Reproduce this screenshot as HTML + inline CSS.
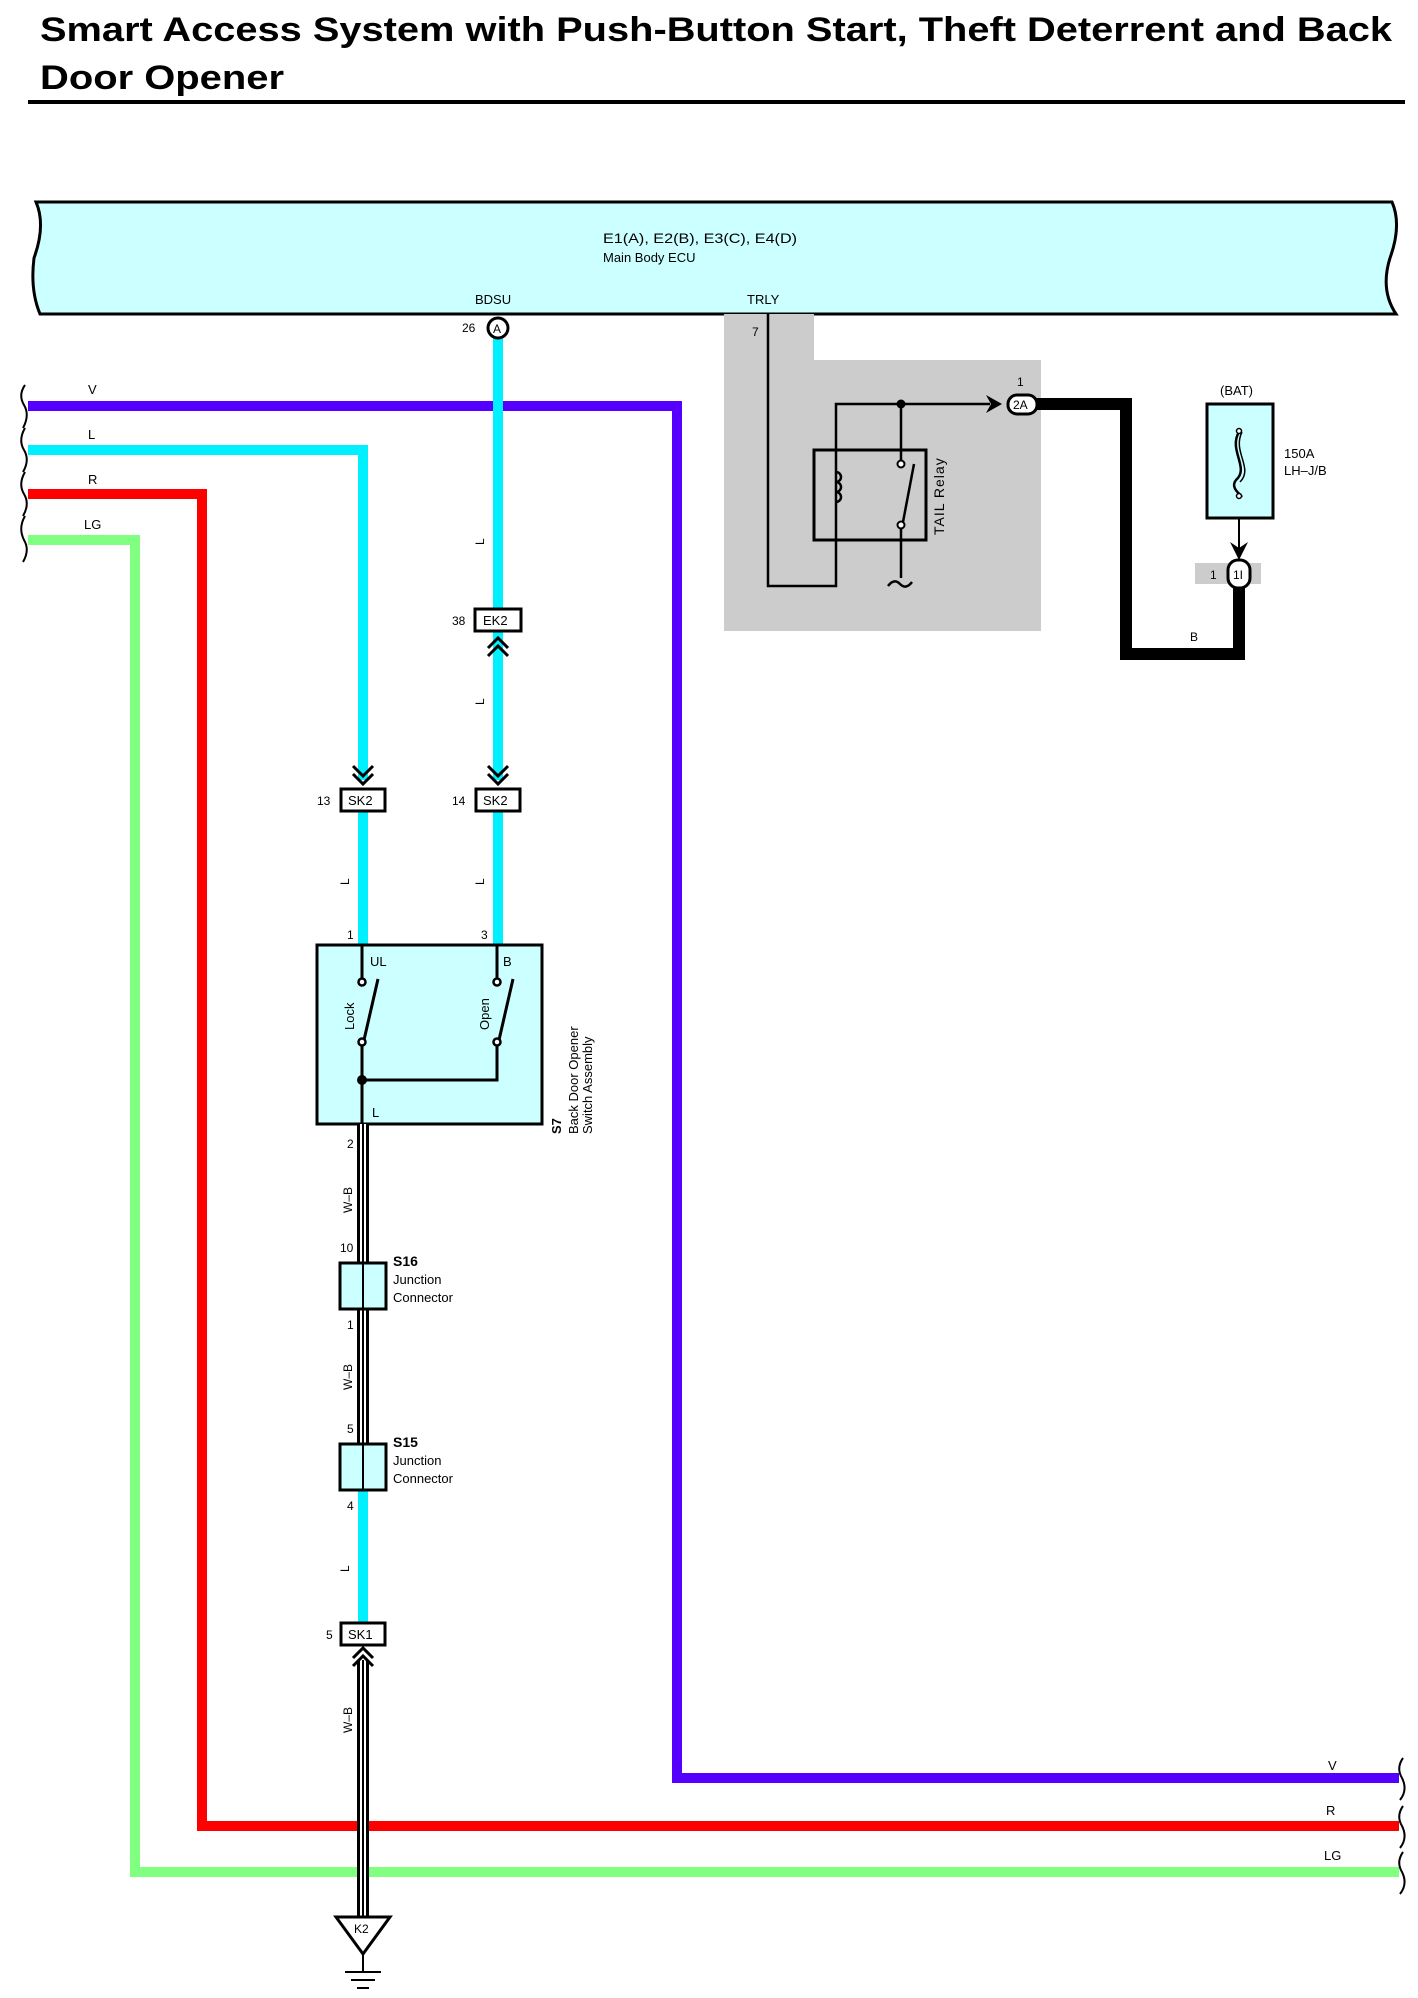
<!DOCTYPE html>
<html><head><meta charset="utf-8"><style>
html,body{margin:0;padding:0;background:#fff}
svg{display:block}
text{font-family:"Liberation Sans",Arial,sans-serif;fill:#000}
</style></head><body>
<svg width="1418" height="1998" viewBox="0 0 1418 1998" xmlns="http://www.w3.org/2000/svg">
<text x="40" y="41" font-size="34" font-weight="bold" textLength="1352" lengthAdjust="spacingAndGlyphs">Smart Access System with Push-Button Start, Theft Deterrent and Back</text>
<text x="40" y="89" font-size="34" font-weight="bold" textLength="244" lengthAdjust="spacingAndGlyphs">Door Opener</text>
<rect x="28" y="100" width="1377" height="4" fill="#000"/>

<path d="M36 202 L1392 202 Q1402 225 1390 258 Q1380 290 1396 314 L40 314 Q30 290 34 258 Q46 225 36 202 Z" fill="#ccffff" stroke="#000" stroke-width="3"/>
<text x="603" y="243" font-size="14" textLength="194" lengthAdjust="spacingAndGlyphs">E1(A), E2(B), E3(C), E4(D)</text>
<text x="603" y="262" font-size="13">Main Body ECU</text>
<text x="475" y="304" font-size="13">BDSU</text>
<text x="747" y="304" font-size="13">TRLY</text>

<path d="M724 314 H814 V360 H1041 V631 H724 Z" fill="#cccccc"/>
<text x="752" y="336" font-size="12">7</text>

<polyline points="28,540 135,540 135,1872 1399,1872" fill="none" stroke="#80ff80" stroke-width="10"/>
<polyline points="28,494 202,494 202,1826 1399,1826" fill="none" stroke="#ff0000" stroke-width="10"/>
<polyline points="28,450 363,450 363,780" fill="none" stroke="#00f0ff" stroke-width="10"/>
<polyline points="28,406 677,406 677,1778 1399,1778" fill="none" stroke="#5500ff" stroke-width="10"/>
<line x1="498" y1="335" x2="498" y2="780" stroke="#00f0ff" stroke-width="10"/>
<line x1="363" y1="810" x2="363" y2="944" stroke="#00f0ff" stroke-width="10"/>
<line x1="498" y1="810" x2="498" y2="944" stroke="#00f0ff" stroke-width="10"/>
<line x1="363" y1="1490" x2="363" y2="1622" stroke="#00f0ff" stroke-width="10"/>

<text x="88" y="394" font-size="13">V</text>
<text x="88" y="439" font-size="13">L</text>
<text x="88" y="484" font-size="13">R</text>
<text x="84" y="529" font-size="13">LG</text>
<text x="1328" y="1770" font-size="13">V</text>
<text x="1326" y="1815" font-size="13">R</text>
<text x="1324" y="1860" font-size="13">LG</text>

<path d="M25 385 Q18 395 24 405 Q30 415 23 428 M25 428 Q18 440 24 450 Q30 460 23 472 M25 472 Q18 484 24 494 Q30 504 23 516 M25 516 Q18 528 24 540 Q30 550 23 562" fill="none" stroke="#000" stroke-width="2"/>
<path d="M1403 1758 Q1396 1768 1402 1778 Q1408 1790 1400 1800 M1403 1806 Q1396 1816 1402 1826 Q1408 1838 1400 1848 M1403 1852 Q1396 1862 1402 1872 Q1408 1884 1400 1894" fill="none" stroke="#000" stroke-width="2"/>

<circle cx="498" cy="328" r="10" fill="#fff" stroke="#000" stroke-width="3"/>
<text x="493" y="333" font-size="12">A</text>
<text x="462" y="332" font-size="12">26</text>

<g font-size="12">
<text transform="translate(484,545) rotate(-90)">L</text>
<text transform="translate(484,705) rotate(-90)">L</text>
<text transform="translate(349,885) rotate(-90)">L</text>
<text transform="translate(484,885) rotate(-90)">L</text>
<text transform="translate(349,1572) rotate(-90)">L</text>
<text transform="translate(352,1213) rotate(-90)">W–B</text>
<text transform="translate(352,1390) rotate(-90)">W–B</text>
<text transform="translate(352,1733) rotate(-90)">W–B</text>
</g>

<rect x="475" y="609" width="46" height="22" fill="#fff" stroke="#000" stroke-width="3"/>
<text x="483" y="625" font-size="13">EK2</text>
<text x="452" y="625" font-size="12">38</text>
<polyline points="488,648 498,638 508,648" fill="none" stroke="#000" stroke-width="3"/>
<polyline points="488,656 498,646 508,656" fill="none" stroke="#000" stroke-width="3"/>

<g fill="none" stroke="#000" stroke-width="3">
<polyline points="353,766 363,776 373,766"/><polyline points="353,774 363,784 373,774"/>
<polyline points="488,766 498,776 508,766"/><polyline points="488,774 498,784 508,774"/>
</g>
<rect x="341" y="789" width="44" height="22" fill="#fff" stroke="#000" stroke-width="3"/>
<text x="348" y="805" font-size="13">SK2</text>
<text x="317" y="805" font-size="12">13</text>
<rect x="476" y="789" width="44" height="22" fill="#fff" stroke="#000" stroke-width="3"/>
<text x="483" y="805" font-size="13">SK2</text>
<text x="452" y="805" font-size="12">14</text>

<text x="347" y="939" font-size="12">1</text>
<text x="481" y="939" font-size="12">3</text>
<rect x="317" y="945" width="225" height="179" fill="#ccffff" stroke="#000" stroke-width="3"/>
<g stroke="#000" stroke-width="3" fill="none">
<line x1="362" y1="945" x2="362" y2="978"/>
<line x1="497" y1="945" x2="497" y2="978"/>
<line x1="362" y1="1046" x2="362" y2="1124"/>
<polyline points="362,1080 497,1080 497,1046"/>
<line x1="364" y1="1040" x2="378" y2="979"/>
<line x1="499" y1="1040" x2="513" y2="979"/>
</g>
<g fill="#fff" stroke="#000" stroke-width="2.5">
<circle cx="362" cy="982" r="3.5"/><circle cx="362" cy="1042" r="3.5"/>
<circle cx="497" cy="982" r="3.5"/><circle cx="497" cy="1042" r="3.5"/>
</g>
<circle cx="362" cy="1080" r="5" fill="#000"/>
<text x="370" y="966" font-size="13">UL</text>
<text x="503" y="966" font-size="13">B</text>
<text x="372" y="1117" font-size="13">L</text>
<text transform="translate(354,1030) rotate(-90)" font-size="13">Lock</text>
<text transform="translate(489,1030) rotate(-90)" font-size="13">Open</text>
<text transform="translate(561,1134) rotate(-90)" font-size="13" font-weight="bold">S7</text>
<text transform="translate(578,1134) rotate(-90)" font-size="13">Back Door Opener</text>
<text transform="translate(592,1134) rotate(-90)" font-size="13">Switch Assembly</text>

<g>
<rect x="357" y="1124" width="12" height="139" fill="#000"/><rect x="360" y="1124" width="6" height="139" fill="#fff"/><line x1="363" y1="1124" x2="363" y2="1263" stroke="#000" stroke-width="2"/>
<rect x="357" y="1309" width="12" height="134" fill="#000"/><rect x="360" y="1309" width="6" height="134" fill="#fff"/><line x1="363" y1="1309" x2="363" y2="1443" stroke="#000" stroke-width="2"/>
<rect x="357" y="1660" width="12" height="256" fill="#000"/><rect x="360" y="1660" width="6" height="256" fill="#fff"/><line x1="363" y1="1660" x2="363" y2="1916" stroke="#000" stroke-width="2"/>
</g>
<text x="347" y="1148" font-size="12">2</text>

<rect x="340" y="1263" width="46" height="46" fill="#ccffff" stroke="#000" stroke-width="3"/>
<line x1="363" y1="1263" x2="363" y2="1309" stroke="#000" stroke-width="2"/>
<text x="340" y="1252" font-size="12">10</text>
<text x="347" y="1329" font-size="12">1</text>
<text x="393" y="1266" font-size="14" font-weight="bold">S16</text>
<text x="393" y="1284" font-size="13">Junction</text>
<text x="393" y="1302" font-size="13">Connector</text>
<rect x="340" y="1444" width="46" height="46" fill="#ccffff" stroke="#000" stroke-width="3"/>
<line x1="363" y1="1444" x2="363" y2="1490" stroke="#000" stroke-width="2"/>
<text x="347" y="1433" font-size="12">5</text>
<text x="347" y="1510" font-size="12">4</text>
<text x="393" y="1447" font-size="14" font-weight="bold">S15</text>
<text x="393" y="1465" font-size="13">Junction</text>
<text x="393" y="1483" font-size="13">Connector</text>

<rect x="341" y="1623" width="44" height="22" fill="#fff" stroke="#000" stroke-width="3"/>
<text x="348" y="1639" font-size="13">SK1</text>
<text x="326" y="1639" font-size="12">5</text>
<polyline points="353,1658 363,1648 373,1658" fill="none" stroke="#000" stroke-width="3"/>
<polyline points="353,1666 363,1656 373,1666" fill="none" stroke="#000" stroke-width="3"/>

<polygon points="336,1917 390,1917 363,1954" fill="#fff" stroke="#000" stroke-width="3"/>
<text x="354" y="1933" font-size="12">K2</text>
<line x1="363" y1="1954" x2="363" y2="1972" stroke="#000" stroke-width="2"/>
<line x1="345" y1="1972" x2="381" y2="1972" stroke="#000" stroke-width="2"/>
<line x1="351" y1="1980" x2="375" y2="1980" stroke="#000" stroke-width="2"/>
<line x1="357" y1="1988" x2="369" y2="1988" stroke="#000" stroke-width="2"/>

<g stroke="#000" stroke-width="2.5" fill="none">
<polyline points="768,314 768,586 836,586 836,404 990,404"/>
<rect x="814" y="450" width="112" height="90" stroke-width="3"/>
<line x1="901" y1="404" x2="901" y2="460"/>
<line x1="901" y1="528" x2="901" y2="578"/>
<line x1="903" y1="522" x2="914" y2="464"/>
<path d="M836 472 a5 5 0 0 1 0 10 a5 5 0 0 1 0 10 a5 5 0 0 1 0 10"/>
<path d="M888 586 q6 -8 12 -2 q6 6 12 -2"/>
</g>
<g fill="#fff" stroke="#000" stroke-width="2"><circle cx="901" cy="464" r="3.5"/><circle cx="901" cy="525" r="3.5"/></g>
<circle cx="901" cy="404" r="4.5" fill="#000"/>
<polygon points="986,395 1002,404 986,413 991,404" fill="#000"/>
<text transform="translate(944,535) rotate(-90)" font-size="14" letter-spacing="1">TAIL Relay</text>

<polyline points="1030,404 1126,404 1126,654 1239,654 1239,580" fill="none" stroke="#000" stroke-width="12" stroke-linejoin="miter"/>
<rect x="1008" y="395" width="29" height="19" rx="9" fill="#fff" stroke="#000" stroke-width="3"/>
<text x="1013" y="409" font-size="12">2A</text>
<text x="1017" y="386" font-size="12">1</text>
<text x="1190" y="641" font-size="12">B</text>

<text x="1220" y="395" font-size="13">(BAT)</text>
<rect x="1207" y="404" width="66" height="114" fill="#ccffff" stroke="#000" stroke-width="3"/>
<line x1="1239" y1="518" x2="1239" y2="552" stroke="#000" stroke-width="2"/>
<path d="M1239 432 C1228 450 1250 468 1236 480 C1228 490 1248 498 1239 496" fill="none" stroke="#000" stroke-width="2.5"/>
<path d="M1242 432 C1232 452 1254 468 1240 482" fill="none" stroke="#000" stroke-width="1.5"/>
<circle cx="1239" cy="431" r="2.5" fill="#fff" stroke="#000" stroke-width="1.5"/>
<circle cx="1239" cy="496" r="2.5" fill="#fff" stroke="#000" stroke-width="1.5"/>
<polygon points="1230,542 1239,560 1248,542 1239,548" fill="#000"/>
<text x="1284" y="458" font-size="13">150A</text>
<text x="1284" y="475" font-size="13">LH–J/B</text>
<rect x="1195" y="563" width="66" height="21" fill="#cccccc"/>
<text x="1210" y="579" font-size="12">1</text>
<rect x="1228" y="560" width="22" height="28" rx="10" fill="#fff" stroke="#000" stroke-width="3"/>
<text x="1233" y="579" font-size="12">1I</text>
</svg>
</body></html>
